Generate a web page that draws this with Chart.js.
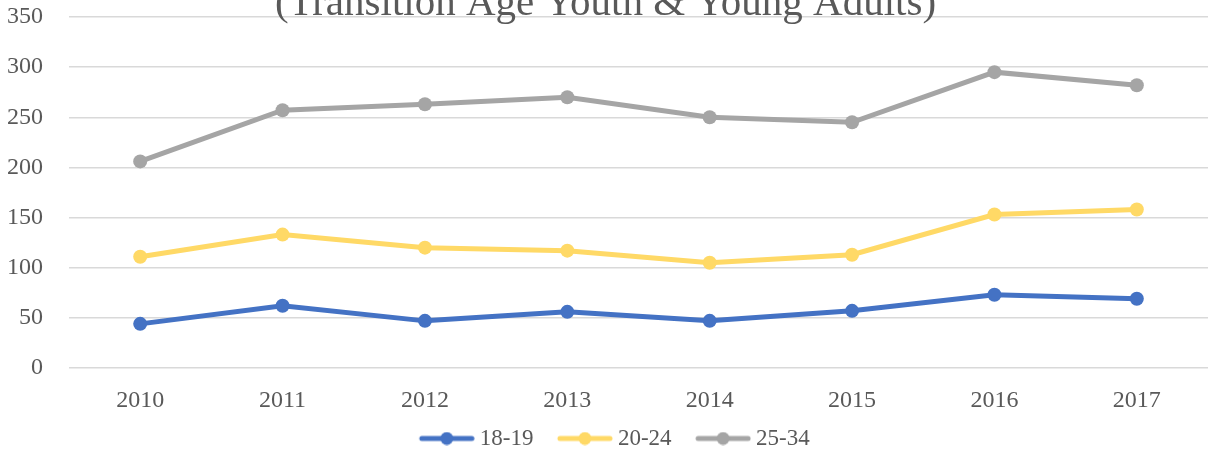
<!DOCTYPE html>
<html>
<head>
<meta charset="utf-8">
<script src="https://cdn.jsdelivr.net/npm/chart.js@4"></script>
<style>
  html, body { margin: 0; padding: 0; background: #fff; overflow: hidden; }
  #wrap { width: 1215px; height: 454px; }
</style>
</head>
<body>
<div id="wrap"><canvas id="chart"></canvas></div>
<script>
const titleText = "(Transition Age Youth & Young Adults)";
const years = ["2010", "2011", "2012", "2013", "2014", "2015", "2016", "2017"];
const age18to19 = [44, 62, 47, 56, 47, 57, 73, 69];
const age20to24 = [111, 133, 120, 117, 105, 113, 153, 158];
const age25to34 = [206, 257, 263, 270, 250, 245, 295, 282];
const seriesNames = ["18-19", "20-24", "25-34"];
const seriesColors = ["#4472C4", "#FFD966", "#A5A5A5"];

const serif = "'Liberation Serif', 'DejaVu Serif', serif";
const textGrey = "#595959";

// line-with-dot swatch for the legend, like the office legend.
// transparent room on the left spaces the items apart.
function swatch(color) {
  const c = document.createElement("canvas");
  const lead = 18;
  c.width = lead + 56;
  c.height = 14;
  const ctx = c.getContext("2d");
  ctx.strokeStyle = color;
  ctx.lineWidth = 5;
  ctx.lineCap = "round";
  ctx.beginPath();
  ctx.moveTo(lead + 3, 7);
  ctx.lineTo(lead + 53, 7);
  ctx.stroke();
  ctx.fillStyle = color;
  ctx.beginPath();
  ctx.arc(lead + 28, 7, 6.5, 0, Math.PI * 2);
  ctx.fill();
  return c;
}

// the title's first line is above the picture; only the lower part of
// the second line shows, so it is drawn at a fixed baseline
const cutTitle = {
  id: "cutTitle",
  afterDraw(chart) {
    const ctx = chart.ctx;
    ctx.save();
    ctx.font = "41px " + serif;
    ctx.fillStyle = textGrey;
    ctx.textAlign = "center";
    ctx.textBaseline = "alphabetic";
    ctx.fillText(titleText, chart.width / 2 - 2, 15);
    ctx.restore();
  },
};

const allSeries = [age18to19, age20to24, age25to34];

new Chart(document.getElementById("chart"), {
  type: "line",
  data: {
    labels: years,
    datasets: allSeries.map((values, i) => ({
      label: seriesNames[i],
      data: values,
      borderColor: seriesColors[i],
      backgroundColor: seriesColors[i],
      borderWidth: 5,
      pointRadius: 7,
      pointHoverRadius: 7,
      pointBorderWidth: 0,
      tension: 0,
    })),
  },
  plugins: [cutTitle],
  options: {
    responsive: true,
    maintainAspectRatio: false,
    animation: false,
    layout: { padding: { left: 0, right: -2, top: 0, bottom: -6 } },
    plugins: {
      title: { display: false },
      legend: {
        position: "bottom",
        labels: {
          color: textGrey,
          font: { family: serif, size: 23 },
          usePointStyle: true,
          pointStyleWidth: 61,
          boxHeight: 14,
          padding: 12,
          generateLabels: (chart) =>
            chart.data.datasets.map((ds, i) => ({
              text: ds.label,
              pointStyle: swatch(seriesColors[i]),
              fontColor: textGrey,
              lineWidth: 0,
              strokeStyle: "transparent",
              fillStyle: seriesColors[i],
              datasetIndex: i,
            })),
        },
      },
      tooltip: { enabled: false },
    },
    scales: {
      x: {
        offset: true,
        afterFit: (scale) => {
          scale.height = 47;
        },
        grid: { display: false, drawTicks: false },
        border: { display: false },
        ticks: {
          color: textGrey,
          font: { family: serif, size: 24 },
          padding: 18,
        },
      },
      y: {
        min: 0,
        max: 350,
        afterFit: (scale) => {
          scale.width = 69;
          scale.paddingTop = 17;
          scale.paddingBottom = 0;
        },
        ticks: {
          stepSize: 50,
          color: textGrey,
          font: { family: serif, size: 24 },
          padding: 26,
        },
        grid: { color: "#D9D9D9", lineWidth: 1.5, drawTicks: false },
        border: { display: false },
      },
    },
  },
});
</script>
</body>
</html>
